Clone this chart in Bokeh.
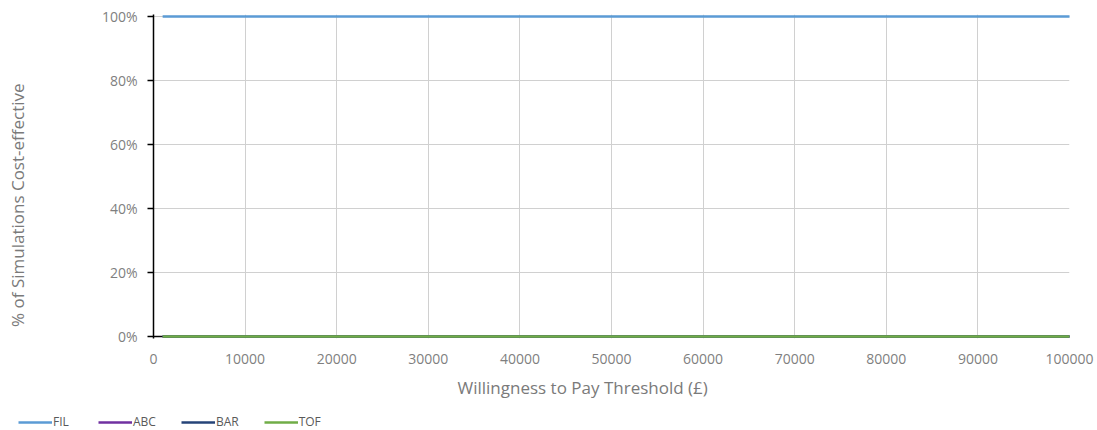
from bokeh.plotting import figure
from bokeh.models import Range1d, NumeralTickFormatter, FixedTicker, Legend, LegendItem, Span, Title
from bokeh.embed import file_html
from bokeh.resources import INLINE

# Data
thresholds = list(range(1000, 100001, 1000))
series_names = ["FIL", "ABC", "BAR", "TOF"]
fil = [1.0] * len(thresholds)
abc = [0.0] * len(thresholds)
bar = [0.0] * len(thresholds)
tof = [0.0] * len(thresholds)
x_ticks = [0, 10000, 20000, 30000, 40000, 50000, 60000, 70000, 80000, 90000, 100000]
y_ticks = [0, 0.2, 0.4, 0.6, 0.8, 1.0]
x_title = "Willingness to Pay Threshold (£)"
y_title = "% of Simulations Cost-effective"

colors = ["#5B9BD5", "#7030A0", "#264478", "#70AD47"]

pad = 0.00625
p = figure(width=1097, height=410, output_backend="svg", toolbar_location=None,
           x_range=Range1d(0, 100000), y_range=Range1d(-pad, 1 + pad),
           min_border_left=153, min_border_right=28, min_border_top=14, min_border_bottom=72)
p.outline_line_color = None
p.background_fill_color = "white"

font = "Open Sans"
tick_col = "#7f7f7f"
title_col = "#7a7a7a"

# grid
p.xgrid.ticker = FixedTicker(ticks=x_ticks)
p.ygrid.ticker = FixedTicker(ticks=y_ticks)
p.xgrid.grid_line_color = "#d0d0d0"
p.ygrid.grid_line_color = "#d0d0d0"

# x axis
xa = p.xaxis[0]
xa.ticker = FixedTicker(ticks=x_ticks)
xa.formatter = NumeralTickFormatter(format="0")
xa.axis_line_color = None
xa.major_tick_line_color = None
xa.major_tick_out = 0
xa.major_tick_in = 0
xa.minor_tick_line_color = None
xa.major_label_standoff = 15
xa.major_label_text_font = font
xa.major_label_text_font_size = "14px"
xa.major_label_text_color = tick_col

# horizontal axis line at 0%
p.add_layout(Span(location=0, dimension="width", line_color="black", line_width=1.5, level="glyph"))

# y axis
ya = p.yaxis[0]
ya.ticker = FixedTicker(ticks=y_ticks)
ya.formatter = NumeralTickFormatter(format="0%")
# trailing no-break spaces move the centred title down, as in the original
ya.axis_label = y_title + "\u00a0" * 13
ya.axis_line_color = "black"
ya.axis_line_width = 1.5
ya.major_tick_line_color = "black"
ya.major_tick_line_width = 1.5
ya.major_tick_out = 6
ya.major_tick_in = 0
ya.minor_tick_line_color = None
ya.major_label_standoff = 10
ya.major_label_text_font = font
ya.major_label_text_font_size = "14px"
ya.major_label_text_color = tick_col
ya.axis_label_text_font = font
ya.axis_label_text_font_size = "17px"
ya.axis_label_text_font_style = "normal"
ya.axis_label_text_color = title_col
ya.axis_label_standoff = 70

# x axis title, placed left of centre like the original
xt = Title(text=x_title, align="left", offset=304, standoff=14,
           text_font=font, text_font_size="17px", text_font_style="normal",
           text_color=title_col)
p.add_layout(xt, "below")

for name, vals, c in zip(series_names, [fil, abc, bar, tof], colors):
    p.line(thresholds, vals, line_color=c, line_width=2.5, level="overlay")

# legend strip below the chart (its lines lie outside its own view; only the swatches show)
lg = figure(width=1097, height=20, output_backend="svg", toolbar_location=None,
            x_axis_location=None, y_axis_location=None,
            x_range=Range1d(0, 100000), y_range=Range1d(5, 6),
            min_border_left=0, min_border_right=0, min_border_top=0, min_border_bottom=0)
lg.outline_line_color = None
lg.xgrid.visible = False
lg.ygrid.visible = False
items = []
for name, vals, c in zip(series_names, [fil, abc, bar, tof], colors):
    r = lg.line(thresholds, vals, line_color=c, line_width=2.5)
    items.append(LegendItem(label=name, renderers=[r]))
legend = Legend(items=items, orientation="horizontal", location=(18, 0),
                label_text_font=font, label_text_font_size="12px",
                label_text_color="#595959", glyph_width=34, glyph_height=12,
                label_standoff=1, spacing=25, padding=0, margin=0,
                background_fill_alpha=0, border_line_color=None)
lg.add_layout(legend, "center")

open("out.html", "w").write(file_html([p, lg], INLINE))
